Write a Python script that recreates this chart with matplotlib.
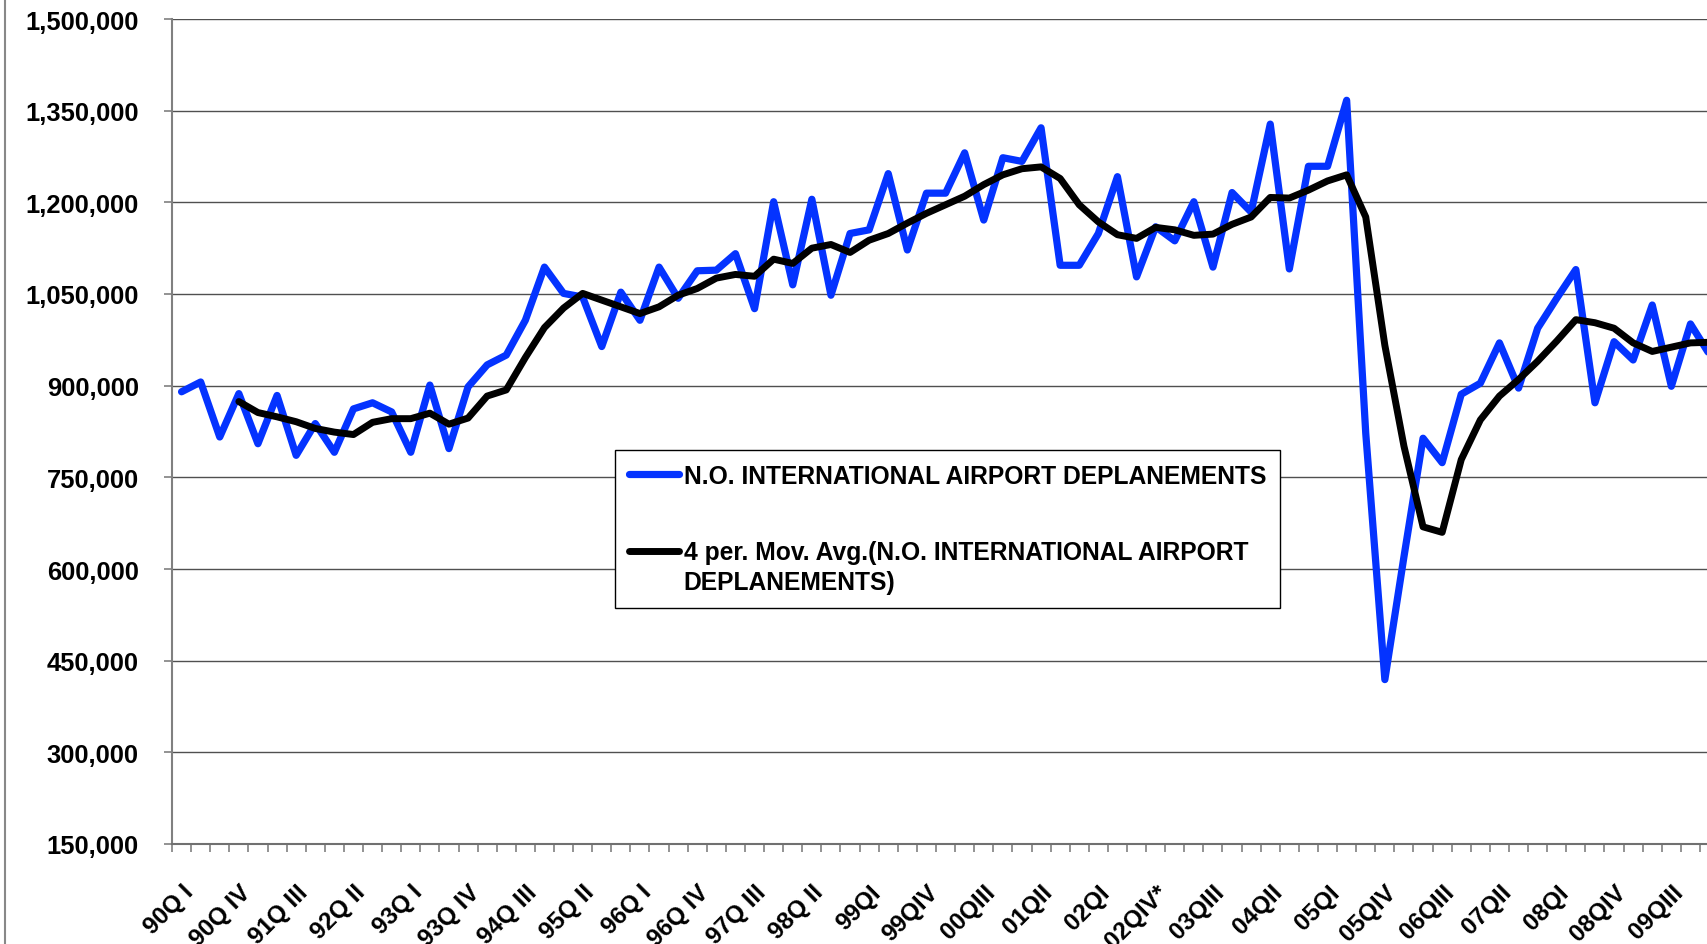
import numpy as np
import matplotlib
matplotlib.use("Agg")
import matplotlib.pyplot as plt
from matplotlib.lines import Line2D
from matplotlib.legend_handler import HandlerLine2D
from matplotlib.ticker import FixedLocator, NullFormatter, FuncFormatter

# ---------------- data ----------------
categories = [
    "90Q I", "90Q II", "90Q III", "90Q IV",
    "91Q I", "91Q II", "91Q III", "91Q IV",
    "92Q I", "92Q II", "92Q III", "92Q IV",
    "93Q I", "93Q II", "93Q III", "93Q IV",
    "94Q I", "94Q II", "94Q III", "94Q IV",
    "95Q I", "95Q II", "95Q III", "95Q IV",
    "96Q I", "96Q II", "96Q III", "96Q IV",
    "97Q I", "97Q II", "97Q III", "97Q IV",
    "98Q I", "98Q II", "98Q III", "98Q IV",
    "99QI", "99QII", "99QIII", "99QIV",
    "00QI", "00QII", "00QIII", "00QIV",
    "01QI", "01QII", "01QIII", "01QIV",
    "02QI", "02QII", "02QIII", "02QIV*",
    "03QI", "03QII", "03QIII", "03QIV",
    "04QI", "04QII", "04QIII", "04QIV",
    "05QI", "05QII", "05QIII", "05QIV",
    "06QI", "06QII", "06QIII", "06QIV",
    "07QI", "07QII", "07QIII", "07QIV",
    "08QI", "08QII", "08QIII", "08QIV",
    "09QI", "09QII", "09QIII", "09QIV",
    "10QI",
]

deplanements = [
    890000, 906000, 816000, 887000, 805000, 884000, 786000, 838000,
    791000, 862000, 872000, 857000, 791000, 901000, 797000, 898000,
    934000, 950000, 1007000, 1094000, 1051000, 1045000, 964000, 1053000,
    1007000, 1094000, 1043000, 1088000, 1089000, 1116000, 1026000, 1201000,
    1065000, 1205000, 1048000, 1149000, 1155000, 1247000, 1122000, 1215000,
    1215000, 1281000, 1171000, 1273000, 1267000, 1322000, 1097000, 1097000,
    1149000, 1242000, 1078000, 1160000, 1137000, 1201000, 1094000, 1216000,
    1184000, 1328000, 1091000, 1259000, 1259000, 1367000, 822000, 419000,
    620000, 814000, 774000, 886000, 904000, 970000, 896000, 994000,
    1043000, 1090000, 872000, 972000, 942000, 1032000, 899000, 1001000,
    951000,
]

moving_avg = [
    None, None, None, 874000, 856000, 849000, 841000, 830000,
    824000, 820000, 840000, 846000, 846000, 855000, 837000, 847000,
    883000, 893000, 946000, 995000, 1027000, 1051000, 1040000, 1029000,
    1018000, 1029000, 1048000, 1059000, 1076000, 1082000, 1079000, 1107000,
    1100000, 1125000, 1131000, 1118000, 1138000, 1149000, 1166000, 1182000,
    1196000, 1210000, 1229000, 1245000, 1255000, 1258000, 1239000, 1196000,
    1168000, 1147000, 1141000, 1159000, 1155000, 1146000, 1148000, 1164000,
    1176000, 1208000, 1207000, 1220000, 1235000, 1245000, 1176000, 966000,
    801000, 669000, 660000, 779000, 844000, 883000, 910000, 940000,
    973000, 1008000, 1003000, 994000, 970000, 956000, 963000, 970000,
    971000,
]

y_ticks = [150000, 300000, 450000, 600000, 750000, 900000,
           1050000, 1200000, 1350000, 1500000]
label_step = 3

series_label = "N.O. INTERNATIONAL AIRPORT DEPLANEMENTS"
trend_label = "4 per. Mov. Avg.(N.O. INTERNATIONAL AIRPORT\nDEPLANEMENTS)"

# ---------------- style ----------------
plt.rcParams['font.family'] = ['Liberation Sans', 'DejaVu Sans']
plt.rcParams['font.weight'] = 'bold'

W, H = 1708, 945
fig = plt.figure(figsize=(W / 100, H / 100), dpi=100)
fig.patch.set_facecolor('white')

n = len(categories)
px_per_cat = 19.1
left_px, top_px, bottom_px = 172, 20, 845
ax = fig.add_axes([left_px / W, 1 - bottom_px / H,
                   n * px_per_cat / W, (bottom_px - top_px) / H])

x = np.arange(n)
ma = np.array([np.nan if v is None else v for v in moving_avg], dtype=float)

blue_line, = ax.plot(x, deplanements, color='#0433FF', lw=5.2,
                     solid_joinstyle='round', solid_capstyle='round',
                     label=series_label, zorder=3)
black_line, = ax.plot(x, ma, color='black', lw=5.0,
                      solid_joinstyle='round', solid_capstyle='round',
                      label=trend_label, zorder=4)

ax.set_xlim(-0.5, n - 0.5)
ax.set_ylim(y_ticks[0], y_ticks[-1])

# y axis
ax.yaxis.set_major_locator(FixedLocator(y_ticks))
ax.yaxis.set_major_formatter(FuncFormatter(lambda v, p: f"{v:,.0f}"))
ax.tick_params(axis='y', which='major', direction='out', length=6,
               width=1.2, color='#808080', pad=18, labelsize=18.4)
ax.yaxis.grid(True, color='#505050', lw=1.0)
ax.set_axisbelow(True)

# x axis: tick marks between categories, labels every 3rd category
ax.xaxis.set_major_locator(FixedLocator(np.arange(-0.5, n, 1.0)))
ax.xaxis.set_major_formatter(NullFormatter())
ax.xaxis.set_minor_locator(FixedLocator(x[::label_step]))
ax.set_xticklabels(categories[::label_step], minor=True)
ax.tick_params(axis='x', which='major', direction='out', length=6,
               width=1.2, color='#808080')
ax.tick_params(axis='x', which='minor', length=0, pad=26, labelsize=17.5)
for lbl in ax.get_xticklabels(minor=True):
    lbl.set_rotation(45)
    lbl.set_ha('right')
    lbl.set_va('top')
    lbl.set_rotation_mode('anchor')
    lbl.set_fontweight('bold')

for s in ('top', 'right'):
    ax.spines[s].set_visible(False)
ax.spines['left'].set_color('#808080')
ax.spines['left'].set_linewidth(1.5)
ax.spines['bottom'].set_color('#707070')
ax.spines['bottom'].set_linewidth(1.5)


class RaisedLine(HandlerLine2D):
    def __init__(self, dy=0.0, **kw):
        super().__init__(**kw)
        self.dy = dy

    def create_artists(self, legend, orig_handle, xdescent, ydescent,
                       width, height, fontsize, trans):
        arts = super().create_artists(legend, orig_handle, xdescent, ydescent,
                                      width, height, fontsize, trans)
        for a in arts:
            a.set_ydata(np.asarray(a.get_ydata(), float) + self.dy)
        return arts


leg = ax.legend(handles=[blue_line, black_line],
                handler_map={black_line: RaisedLine(dy=12.5)},
                loc='upper left',
                bbox_to_anchor=(615 / W, 1 - 451 / H),
                bbox_transform=fig.transFigure,
                borderaxespad=0, fontsize=17.7, handlelength=2.05,
                handletextpad=0.2, borderpad=0.55, labelspacing=2.15,
                fancybox=False, framealpha=1, edgecolor='black')
leg.get_frame().set_linewidth(1.0)
for t in leg.get_texts():
    t.set_fontweight('bold')
    t.set_linespacing(1.32)

# chart-area border at the far left
fig.add_artist(Line2D([5 / W, 5 / W], [0, 1], transform=fig.transFigure,
                      color='#888888', lw=1.5))

fig.savefig('out.png', dpi=100)
